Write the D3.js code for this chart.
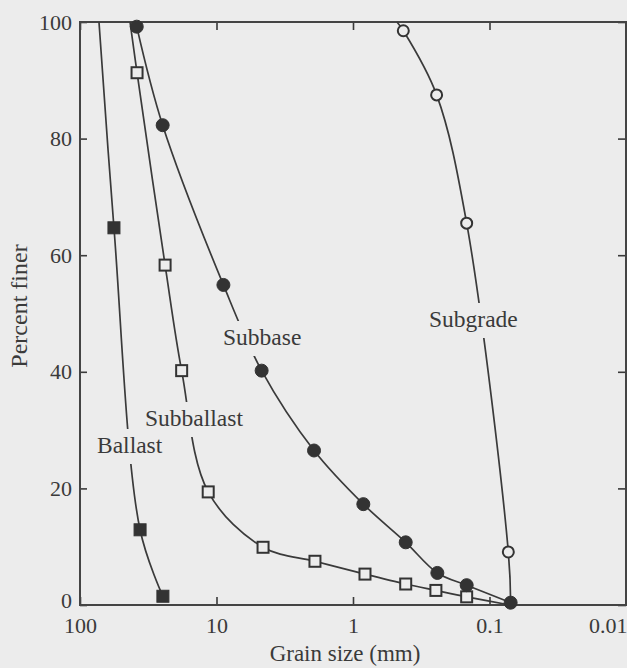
<!DOCTYPE html>
<html>
<head>
<meta charset="utf-8">
<script src="https://cdn.jsdelivr.net/npm/d3@7"></script>
<style>
  html, body { margin: 0; padding: 0; background: #ececec; }
  svg { display: block; }
  text { font-family: "Liberation Serif", "Times New Roman", serif; fill: #3a3a3a; }
</style>
</head>
<body>
<svg id="chart" width="627" height="668"></svg>
<script>
// ---- data ----
const sizeTicks = [100, 10, 1, 0.1, 0.01];
const finerTicks = [0, 20, 40, 60, 80, 100];

const ballastSize   = [72.6, 56.4, 36.3, 24.7];
const ballastFiner  = [100, 64.7, 12.9, 1.5];
const ballastMarked = [false, true, true, true];

const subballastSize   = [43, 38.2, 23.8, 18.0, 11.5, 4.56, 1.90, 0.817, 0.411, 0.247, 0.147, 0.0708];
const subballastFiner  = [100, 91.3, 58.3, 40.2, 19.4, 9.9, 7.5, 5.3, 3.6, 2.5, 1.4, 0];
const subballastMarked = [false, true, true, true, true, true, true, true, true, true, true, false];

const subbaseSize   = [38.4, 24.8, 8.9, 4.67, 1.93, 0.84, 0.411, 0.241, 0.147, 0.070];
const subbaseFiner  = [99.2, 82.3, 54.9, 40.2, 26.5, 17.3, 10.75, 5.5, 3.4, 0.4];
const subbaseMarked = [true, true, true, true, true, true, true, true, true, true];

const subgradeSize   = [0.476, 0.428, 0.244, 0.147, 0.0728, 0.070];
const subgradeFiner  = [100, 98.5, 87.5, 65.5, 9.1, 0.4];
const subgradeMarked = [false, true, true, true, true, false];

const seriesNames = ["Ballast", "Subballast", "Subbase", "Subgrade"];

// ---- layout ----
const BG = "#ececec";
const INK = "#3a3a3a";
const svg = d3.select("#chart");
svg.append("rect").attr("width", 627).attr("height", 668).attr("fill", BG);

const x = d3.scaleLog().domain([100, 0.01]).range([80, 626]);
const y = d3.scaleLinear().domain([0, 100]).range([605, 22]);

const x0 = x.range()[0], x1 = x.range()[1];
const y0 = y.range()[0], y1 = y.range()[1];

// axes (ticks pointing inward)
const fmt = d => String(d);
const gB = svg.append("g").attr("transform", `translate(0,${y0})`)
  .call(d3.axisBottom(x).tickValues(sizeTicks).tickFormat(fmt).tickSize(-8).tickPadding(12));
const gT = svg.append("g").attr("transform", `translate(0,${y1})`)
  .call(d3.axisTop(x).tickValues(sizeTicks).tickFormat("").tickSize(-8));
const gL = svg.append("g").attr("transform", `translate(${x0},0)`)
  .call(d3.axisLeft(y).tickValues(finerTicks).tickFormat(fmt).tickSize(-7).tickPadding(8));
const gR = svg.append("g").attr("transform", `translate(${x1},0)`)
  .call(d3.axisRight(y).tickValues(finerTicks).tickFormat("").tickSize(-8));

[gB, gT, gL, gR].forEach(g => {
  g.select(".domain").remove();
  g.selectAll(".tick line").attr("stroke", INK).attr("stroke-width", 1.6);
  g.selectAll(".tick text").attr("font-size", 22).attr("fill", INK)
    .style("font-family", '"Liberation Serif", serif');
});
gB.selectAll(".tick text").filter(d => d === 0.01).attr("text-anchor", "end").attr("x", 1);
gL.selectAll(".tick text").filter(d => d === 0).attr("y", -5);

// frame
svg.append("rect")
  .attr("x", x0).attr("y", y1).attr("width", x1 - x0).attr("height", y0 - y1)
  .attr("fill", "none").attr("stroke", "#444").attr("stroke-width", 2);

// curves
const line = d3.line().x(d => x(d.s)).y(d => y(d.f)).curve(d3.curveCatmullRom.alpha(0.5));
function build(sz, fi, mk) { return sz.map((s, i) => ({ s, f: fi[i], m: mk[i] })); }
const series = [
  { name: "Ballast",    data: build(ballastSize, ballastFiner, ballastMarked), marker: "fsq" },
  { name: "Subballast", data: build(subballastSize, subballastFiner, subballastMarked), marker: "osq" },
  { name: "Subgrade",   data: build(subgradeSize, subgradeFiner, subgradeMarked), marker: "ocirc" },
  { name: "Subbase",    data: build(subbaseSize, subbaseFiner, subbaseMarked), marker: "fcirc" }
];

const plot = svg.append("g");
series.forEach(sr => {
  plot.append("path").datum(sr.data).attr("d", line)
    .attr("fill", "none").attr("stroke", INK).attr("stroke-width", 1.7);
});

// labels with background gap (the curves break around them)
const labels = [
  { text: "Ballast",    lx: 97,  ly: 453 },
  { text: "Subballast", lx: 145, ly: 426 },
  { text: "Subbase",    lx: 223, ly: 345 },
  { text: "Subgrade",   lx: 429, ly: 327 }
];
const lg = svg.append("g");
labels.forEach(l => {
  const t = lg.append("text").attr("x", l.lx).attr("y", l.ly)
    .attr("font-size", 23.5).attr("fill", INK).text(l.text);
  const bb = t.node().getBBox();
  lg.insert("rect", "text")
    .attr("x", bb.x - 5).attr("y", l.ly - 24).attr("width", bb.width + 10).attr("height", 35)
    .attr("fill", BG);
});

// markers
const mg = svg.append("g");
series.forEach(sr => {
  const pts = sr.data.filter(d => d.m);
  if (sr.marker === "fsq" || sr.marker === "osq") {
    const filled = sr.marker === "fsq";
    const s = filled ? 12 : 11;
    mg.selectAll(null).data(pts).enter().append("rect")
      .attr("x", d => x(d.s) - s / 2).attr("y", d => y(d.f) - s / 2)
      .attr("width", s).attr("height", s)
      .attr("fill", filled ? "#333" : BG)
      .attr("stroke", "#333").attr("stroke-width", filled ? 1 : 2);
  } else {
    const filled = sr.marker === "fcirc";
    mg.selectAll(null).data(pts).enter().append("circle")
      .attr("cx", d => x(d.s)).attr("cy", d => y(d.f))
      .attr("r", filled ? 6.5 : 5.5)
      .attr("fill", filled ? "#333" : BG)
      .attr("stroke", "#333").attr("stroke-width", filled ? 1 : 2);
  }
});

// axis titles
svg.append("text").attr("x", 345).attr("y", 661).attr("text-anchor", "middle")
  .attr("font-size", 23).attr("fill", INK).text("Grain size (mm)");
svg.append("text").attr("transform", "translate(27,306) rotate(-90)").attr("text-anchor", "middle")
  .attr("font-size", 24).attr("fill", INK).text("Percent finer");
</script>
</body>
</html>
